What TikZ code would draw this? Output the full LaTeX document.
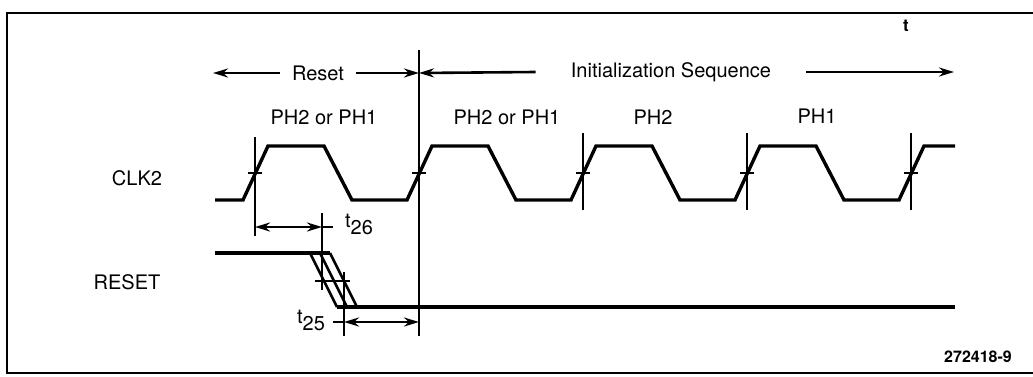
\documentclass[tikz,border=0pt]{standalone}
\usepackage{fontspec}
\setmainfont{TeX Gyre Heros}
\usetikzlibrary{arrows.meta}
\begin{document}
\begin{tikzpicture}[x=1pt,y=-1pt,
  wave/.style={line width=3.4pt,line join=miter},
  tickline/.style={line width=2.8pt},
  hatch/.style={line width=2.6pt},
  arr/.style={line width=2.6pt,-{Stealth[length=15pt,width=9pt]}},
  twoarr/.style={line width=2.6pt,{Stealth[length=15pt,width=9pt]}-{Stealth[length=15pt,width=9pt]}},
  lbl/.style={font=\fontsize{20}{22}\selectfont,inner sep=0pt}]
\useasboundingbox (0,0) rectangle (1033,377);
\draw[line width=2.2pt] (1033,13) -- (7,13) -- (7,373) -- (1033,373);
\node[lbl] (clk) at (137,178) {CLK2};
\node[lbl] (rst) at (127,282) {RESET};
\node[lbl] (ph0) at (324,117) {PH2 or PH1};
\node[lbl] (ph1) at (507,117) {PH2 or PH1};
\node[lbl] (ph2) at (653,117) {PH2};
\node[lbl] (ph3) at (817,116) {PH1};
\node[lbl,font=\bfseries\fontsize{17}{17}\selectfont] (tmark) at (906,26) {t};
\node[lbl,font=\bfseries\fontsize{16}{18}\selectfont] (fig) at (978,357) {272418-9};
\node[lbl,inner xsep=12pt] (reset) at (318,73) {Reset};
\node[lbl,inner xsep=35pt] (init) at (671,72) {Initialization Sequence};
\coordinate (resetL) at (213,73);
\coordinate (split) at (419,73);
\coordinate (initR) at (954,72);
\draw[arr] (reset.west) -- (resetL);
\draw[arr] (reset.east) -- (split);
\draw[arr] (init.west) -- (split);
\draw[arr] (init.east) -- (initR);
\draw[wave] (215,200) \foreach \e in {255,419,583,747}
  { -- (\e-12,200) -- (\e+13,146) -- (\e+69,146) -- (\e+97,200) } -- (899,200) -- (924,146) -- (955,146);
\foreach \e in {583,747,911} \draw[tickline] (\e,133) -- (\e,210);
\foreach \e in {255,419,583,747,911} \draw[tickline] (\e-7,173) -- (\e+7,173);
\coordinate (vtop) at (419,50);
\coordinate (vbot) at (419,336);
\draw[tickline] (vtop) -- (vbot);
\coordinate (a26) at (255,227);
\coordinate (b26) at (322,227);
\draw[tickline] (255,137) -- (255,236);
\draw[tickline] (322,213) -- (322,290);
\draw[tickline] (b26) -- (333,227);
\draw[twoarr] (a26) -- (b26);
\node[lbl] (t26) at (359,224) {t\raisebox{-7pt}{26}};
\draw[wave] (215,253) -- (330,253);
\draw[hatch] (310,253) -- (337,307);
\draw[hatch] (320,253) -- (347,307);
\draw[hatch] (330,253) -- (357,307);
\draw[wave] (337,307) -- (955,307);
\draw[tickline] (315,281) -- (350,281);
\coordinate (a25) at (344,322);
\coordinate (b25) at (419,322);
\draw[tickline] (344,272) -- (344,336);
\draw[tickline] (333,322) -- (a25);
\draw[twoarr] (a25) -- (b25);
\node[lbl] (t25) at (311,320) {t\raisebox{-7pt}{25}};
\end{tikzpicture}
\end{document}
